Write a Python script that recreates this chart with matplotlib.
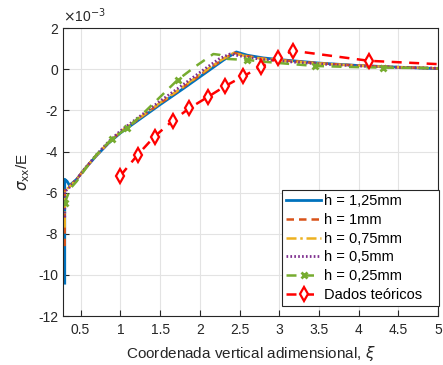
import numpy as np
import matplotlib
matplotlib.use('Agg')
import matplotlib.pyplot as plt

matplotlib.rcParams['font.family'] = ['Liberation Sans', 'DejaVu Sans']
matplotlib.rcParams['mathtext.fontset'] = 'dejavusans'

# values in units of 1e-3
x_125 = [0.30, 0.30, 0.33, 0.36, 0.45, 0.55, 0.70, 0.85, 1.00, 1.20, 1.50, 1.80, 2.10, 2.30, 2.46, 2.60, 2.80, 3.00, 3.50, 4.00, 4.50, 5.00]
y_125 = [-10.4, -5.35, -5.45, -5.65, -5.35, -4.85, -4.20, -3.60, -3.10, -2.55, -1.72, -0.92, -0.10, 0.45, 0.84, 0.68, 0.55, 0.47, 0.30, 0.18, 0.10, 0.03]

x_1 = [0.30, 0.30, 0.35, 0.45, 0.55, 0.70, 0.85, 1.00, 1.20, 1.50, 1.80, 2.10, 2.30, 2.43, 2.60, 2.80, 3.00, 3.50, 4.00, 4.50, 5.00]
y_1 = [-8.6, -5.90, -5.75, -5.35, -4.85, -4.18, -3.58, -3.06, -2.50, -1.66, -0.85, -0.02, 0.50, 0.80, 0.64, 0.52, 0.45, 0.29, 0.18, 0.10, 0.04]

x_075 = [0.30, 0.30, 0.35, 0.45, 0.55, 0.70, 0.85, 1.00, 1.20, 1.50, 1.80, 2.10, 2.30, 2.42, 2.60, 2.80, 3.00, 3.50, 4.00, 4.50, 5.00]
y_075 = [-7.7, -5.90, -5.75, -5.35, -4.85, -4.18, -3.57, -3.05, -2.48, -1.63, -0.82, 0.02, 0.52, 0.78, 0.62, 0.50, 0.43, 0.28, 0.17, 0.10, 0.05]

x_05 = [0.30, 0.30, 0.35, 0.45, 0.55, 0.70, 0.85, 1.00, 1.20, 1.50, 1.80, 2.10, 2.25, 2.38, 2.60, 2.80, 3.00, 3.50, 4.00, 4.50, 5.00]
y_05 = [-7.2, -5.95, -5.78, -5.35, -4.85, -4.15, -3.53, -3.00, -2.42, -1.55, -0.72, 0.12, 0.52, 0.74, 0.58, 0.47, 0.40, 0.26, 0.16, 0.09, 0.05]

x_025 = [0.30, 0.37, 0.45, 0.55, 0.70, 0.89, 1.09, 1.30, 1.50, 1.72, 1.95, 2.17, 2.25, 2.35, 2.60, 2.80, 3.00, 3.45, 3.90, 4.30, 5.00]
y_025 = [-6.5, -5.80, -5.45, -4.90, -4.15, -3.40, -2.85, -2.10, -1.35, -0.52, 0.15, 0.74, 0.70, 0.50, 0.45, 0.37, 0.30, 0.16, 0.11, 0.08, 0.05]
mark_025 = [0, 5, 6, 9, 14, 17, 19]

x_teo = [1.00, 1.22, 1.43, 1.66, 1.87, 2.10, 2.32, 2.55, 2.77, 2.98, 3.17, 4.13, 5.15]
y_teo = [-5.18, -4.15, -3.27, -2.50, -1.89, -1.35, -0.82, -0.33, 0.11, 0.55, 0.90, 0.41, 0.22]

labels = ['h = 1,25mm', 'h = 1mm', 'h = 0,75mm', 'h = 0,5mm', 'h = 0,25mm', 'Dados teóricos']

fig = plt.figure(figsize=(4.43, 3.65), dpi=100)
ax = fig.add_axes([0.142, 0.134, 0.847, 0.789])

ax.plot(x_125, y_125, color='#0072BD', lw=2.0, label=labels[0])
ax.plot(x_1, y_1, color='#D95319', lw=1.8, ls=(0, (3, 2)), label=labels[1])
ax.plot(x_075, y_075, color='#EDB120', lw=1.8, ls=(0, (4, 1.5, 1, 1.5)), label=labels[2])
ax.plot(x_05, y_05, color='#7E2F8E', lw=2.0, ls=(0, (0.6, 0.8)), label=labels[3])
ax.plot(x_025, y_025, color='#77AC30', lw=1.8, ls=(0, (4, 3)), marker='x', ms=4, mew=2,
        markevery=mark_025, label=labels[4])
ax.plot(x_teo, y_teo, color='#FF0000', lw=1.8, ls=(0, (4, 3)), marker='d', ms=7, mew=1.6,
        mfc='white', label=labels[5] + '   ')  # extra right padding like matlab legend

ax.set_xlim(0.277, 5)
ax.set_ylim(-12, 2)
ax.set_xticks(np.arange(0.5, 5.01, 0.5))
ax.set_xticklabels(['0.5', '1', '1.5', '2', '2.5', '3', '3.5', '4', '4.5', '5'])
ax.set_yticks(np.arange(-12, 2.01, 2))
ax.set_yticklabels(['-12', '-10', '-8', '-6', '-4', '-2', '0', '2'])
ax.grid(True, color='#e3e3e3', lw=0.8)
ax.set_axisbelow(True)
ax.tick_params(direction='in', length=4, labelsize=10, colors='#262626')
ax.tick_params(axis='x', pad=5)
for s in ax.spines.values():
    s.set_color('#262626')
    s.set_linewidth(0.8)

ax.text(0.0, 1.012, r'$\times$10$^{-3}$', transform=ax.transAxes, fontsize=10, color='#262626',
        ha='left', va='bottom')
ax.set_xlabel(r'Coordenada vertical adimensional, $\xi$', fontsize=11, color='#262626', labelpad=5)
ax.set_ylabel(r'$\sigma_{\rm xx}$/E', fontsize=11, color='#262626', labelpad=4)

leg = ax.legend(loc='lower right', bbox_to_anchor=(1.003, 0.035), fontsize=10.5,
                handlelength=2.4, handletextpad=0.2, borderpad=0.3, labelspacing=0.32,
                fancybox=False, framealpha=1, edgecolor='#262626', borderaxespad=0)
leg.get_frame().set_linewidth(0.8)

fig.savefig('out.png', dpi=100)
